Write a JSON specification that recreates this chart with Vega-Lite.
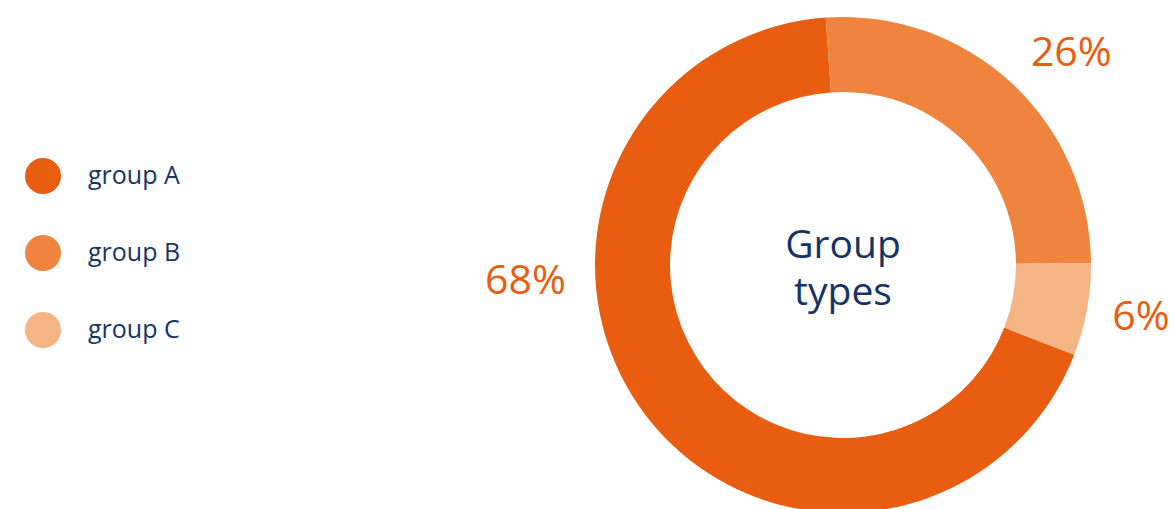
{
  "$schema": "https://vega.github.io/schema/vega-lite/v6.json",
  "width": 500,
  "height": 500,
  "autosize": {"type": "none"},
  "padding": {"left": 593, "top": 15, "right": 80, "bottom": 0},
  "background": "white",
  "config": {"view": {"stroke": null}, "font": "Open Sans"},
  "data": {"values": [
    {"group": "group A", "value": 68, "label": "68%"},
    {"group": "group B", "value": 26, "label": "26%"},
    {"group": "group C", "value": 6, "label": "6%"}
  ]},
  "encoding": {
    "theta": {"field": "value", "type": "quantitative", "stack": true, "scale": {"range": [1.941, 8.2242]}},
    "order": {"field": "group", "type": "nominal", "sort": "ascending"}
  },
  "layer": [
    {
      "mark": {"type": "arc", "outerRadius": 248, "innerRadius": 173, "stroke": null},
      "encoding": {
        "color": {
          "field": "group", "type": "nominal",
          "scale": {"domain": ["group A", "group B", "group C"], "range": ["#E85D10", "#EE843E", "#F5B483"]},
          "legend": {
            "title": null,
            "orient": "none",
            "legendX": -568,
            "legendY": 143,
            "padding": 0,
            "symbolType": "circle",
            "symbolSize": 1296,
            "symbolStrokeWidth": 0,
            "symbolOpacity": 1,
            "labelFont": "Open Sans",
            "labelFontSize": 25,
            "labelColor": "#153466",
            "labelOffset": 27,
            "rowPadding": 41,
            "labelLimit": 300
          }
        }
      }
    },
    {
      "mark": {"type": "text", "radius": 305, "font": "Open Sans", "fontSize": 41, "color": "#E85D10", "align": "center", "baseline": "middle", "dx": -2, "dy": -2},
      "encoding": {
        "text": {"field": "label"},
        "opacity": {"condition": {"test": "datum.group == 'group C'", "value": 1}, "value": 0}
      }
    },
    {
      "mark": {"type": "text", "radius": 305, "font": "Open Sans", "fontSize": 41, "color": "#E85D10", "align": "center", "baseline": "middle", "dx": 21, "dy": 13},
      "encoding": {
        "text": {"field": "label"},
        "opacity": {"condition": {"test": "datum.group == 'group B'", "value": 1}, "value": 0}
      }
    },
    {
      "mark": {"type": "text", "radius": 305, "font": "Open Sans", "fontSize": 41, "color": "#E85D10", "align": "center", "baseline": "middle", "dx": -72, "dy": -164},
      "encoding": {
        "text": {"field": "label"},
        "opacity": {"condition": {"test": "datum.group == 'group A'", "value": 1}, "value": 0}
      }
    },
    {
      "data": {"values": [{"title": "Group types"}]},
      "mark": {"type": "text", "text": ["Group", "types"], "font": "Open Sans", "fontSize": 39, "lineHeight": 47, "color": "#153466", "align": "center", "baseline": "alphabetic", "dy": -7},
      "encoding": {"theta": null, "order": null}
    }
  ]
}
